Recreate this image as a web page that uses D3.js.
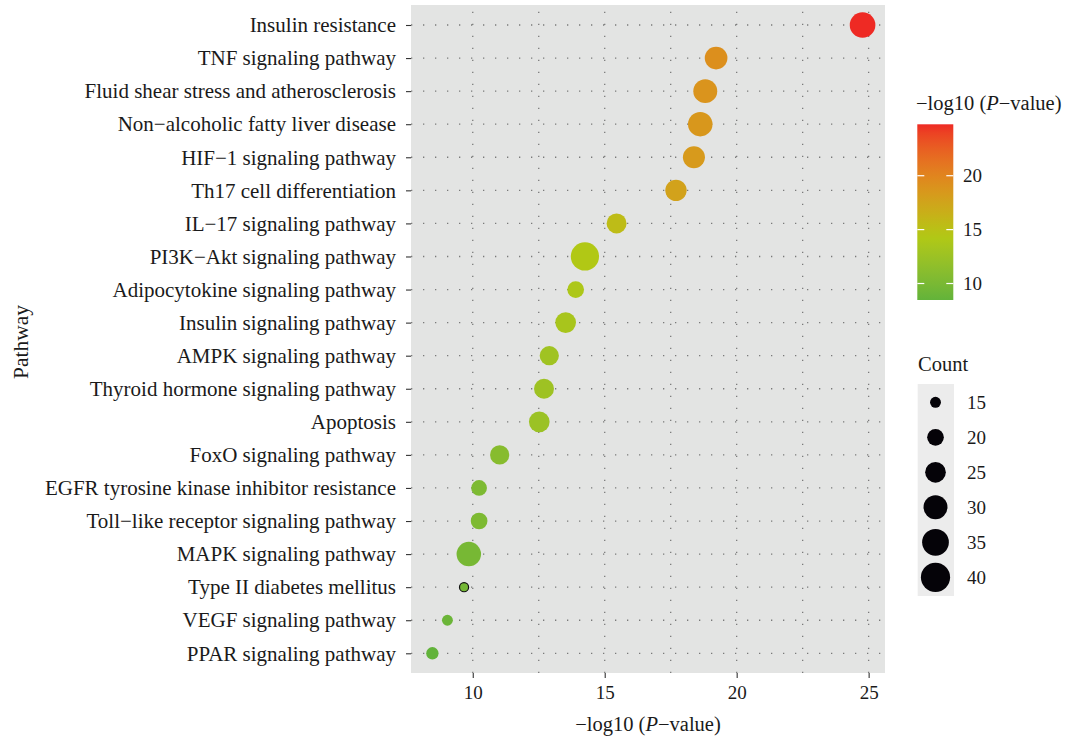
<!DOCTYPE html>
<html><head><meta charset="utf-8">
<script src="https://cdn.jsdelivr.net/npm/d3@7"></script>
<style>
body{margin:0;background:#fff;}
svg{display:block;}
text{font-family:"Liberation Serif","Times New Roman",serif;fill:#1a1a1a;}
</style></head>
<body><svg id="c" width="1069" height="739"></svg>
<script>
const pathways = ["Insulin resistance","TNF signaling pathway","Fluid shear stress and atherosclerosis","Non\u2212alcoholic fatty liver disease","HIF\u22121 signaling pathway","Th17 cell differentiation","IL\u221217 signaling pathway","PI3K\u2212Akt signaling pathway","Adipocytokine signaling pathway","Insulin signaling pathway","AMPK signaling pathway","Thyroid hormone signaling pathway","Apoptosis","FoxO signaling pathway","EGFR tyrosine kinase inhibitor resistance","Toll\u2212like receptor signaling pathway","MAPK signaling pathway","Type II diabetes mellitus","VEGF signaling pathway","PPAR signaling pathway"];
const logP = [24.77,19.22,18.81,18.62,18.38,17.70,15.45,14.25,13.90,13.52,12.90,12.70,12.52,11.02,10.24,10.24,9.85,9.67,9.04,8.47];
const counts = [33,28,30,31,27,26,24,38,20,25,23,24,25,23,19,20,31,14,15,16];
const xTicks = [10,15,20,25];
const xMinor = [12.5,17.5,22.5];
const colorTicks = [10,15,20];
const sizeTicks = [15,20,25,30,35,40];
const colorStops = ["#62b33a","#b2c814","#df8a1e","#ee2a24"];

const svg = d3.select("#c");
const P = {l:411, r:885, t:5, b:673};
const x = d3.scaleLinear().domain([7.66,25.62]).range([P.l,P.r]);
const y = d3.scalePoint().domain(pathways).range([25,653.3]);
const cMin = d3.min(logP), cMax = d3.max(logP);
const color = d3.scaleLinear().domain([cMin,14.3,19.6,cMax]).range(colorStops).interpolate(d3.interpolateLab);
const sq = d3.scaleSqrt().domain([0,40-12.5]).range([0,2.5*Math.sqrt(27.5)]);
const rad = c => 1.5 + sq(Math.max(0,c-12.5));

// panel
svg.append("rect").attr("x",P.l).attr("y",P.t).attr("width",P.r-P.l).attr("height",P.b-P.t).attr("fill","#e3e4e3");
const grid = svg.append("g").attr("stroke","#7a7a7a").attr("stroke-width",1.3).attr("stroke-dasharray","1.3,10.7");
xTicks.concat(xMinor).forEach(v=>{
  grid.append("line").attr("x1",x(v)).attr("x2",x(v)).attr("y1",P.b).attr("y2",P.t);
});
pathways.forEach(p=>{
  grid.append("line").attr("x1",P.l).attr("x2",P.r).attr("y1",y(p)).attr("y2",y(p));
});

// axes
const xa = svg.append("g").attr("transform",`translate(0,${P.b})`)
  .call(d3.axisBottom(x).tickValues(xTicks).tickSize(5).tickPadding(8).tickFormat(d3.format("d")));
xa.select(".domain").remove();
xa.selectAll("line").attr("stroke","#333").attr("stroke-width",1.1);
xa.selectAll("text").attr("font-size",19).attr("fill","#1a1a1a").style("font-family","Liberation Serif, serif");

const ya = svg.append("g").attr("transform",`translate(${P.l},0)`)
  .call(d3.axisLeft(y).tickSize(5).tickPadding(10));
ya.select(".domain").remove();
ya.selectAll("line").attr("stroke","#333").attr("stroke-width",1.1);
ya.selectAll("text").attr("font-size",21).attr("fill","#1a1a1a").style("font-family","Liberation Serif, serif");

// points
const data = pathways.map((p,i)=>({p, v:logP[i], c:counts[i]}));
svg.append("g").selectAll("circle").data(data).join("circle")
  .attr("cx",d=>x(d.v)).attr("cy",d=>y(d.p)).attr("r",d=>rad(d.c))
  .attr("fill",d=>color(d.v))
  .attr("stroke",d=>d.p==="Type II diabetes mellitus"?"#111":"none")
  .attr("stroke-width",1.2);

// axis titles
const xt = svg.append("text").attr("x",648).attr("y",731).attr("text-anchor","middle").attr("font-size",20.5);
xt.append("tspan").text("\u2212log10 (");
xt.append("tspan").attr("font-style","italic").text("P");
xt.append("tspan").text("\u2212value)");
svg.append("text").attr("transform","translate(28,342) rotate(-90)").attr("text-anchor","middle").attr("font-size",21.5).text("Pathway");

// colour legend
const lt = svg.append("text").attr("x",916).attr("y",110).attr("font-size",20.5);
lt.append("tspan").text("\u2212log10 (");
lt.append("tspan").attr("font-style","italic").text("P");
lt.append("tspan").text("\u2212value)");
const cb = {x:917.3, w:36, t:124.3, b:300};
const cy = d3.scaleLinear().domain([cMin,cMax]).range([cb.b,cb.t]);
const defs = svg.append("defs");
const grad = defs.append("linearGradient").attr("id","g").attr("x1",0).attr("x2",0).attr("y1",1).attr("y2",0);
d3.range(0,1.0001,0.05).forEach(t=>{
  const v = cMin + t*(cMax-cMin);
  grad.append("stop").attr("offset",t).attr("stop-color",color(v));
});
svg.append("rect").attr("x",cb.x).attr("y",cb.t).attr("width",cb.w).attr("height",cb.b-cb.t).attr("fill","url(#g)");
colorTicks.forEach(v=>{
  svg.append("line").attr("x1",cb.x).attr("x2",cb.x+7).attr("y1",cy(v)).attr("y2",cy(v)).attr("stroke","#fff").attr("stroke-width",1.2);
  svg.append("line").attr("x1",cb.x+cb.w-7).attr("x2",cb.x+cb.w).attr("y1",cy(v)).attr("y2",cy(v)).attr("stroke","#fff").attr("stroke-width",1.2);
  svg.append("text").attr("x",963).attr("y",cy(v)).attr("dy","0.35em").attr("font-size",19).text(v);
});

// size legend
svg.append("text").attr("x",918).attr("y",371).attr("font-size",20.5).text("Count");
svg.append("rect").attr("x",917.7).attr("y",384).attr("width",36.3).attr("height",212).attr("fill","#ececec");
const sy = d3.scalePoint().domain(sizeTicks).range([402.3,577.3]);
sizeTicks.forEach(c=>{
  svg.append("circle").attr("cx",935.5).attr("cy",sy(c)).attr("r",rad(c)).attr("fill","#050308");
  svg.append("text").attr("x",967).attr("y",sy(c)).attr("dy","0.35em").attr("font-size",19).text(c);
});
</script></body></html>
